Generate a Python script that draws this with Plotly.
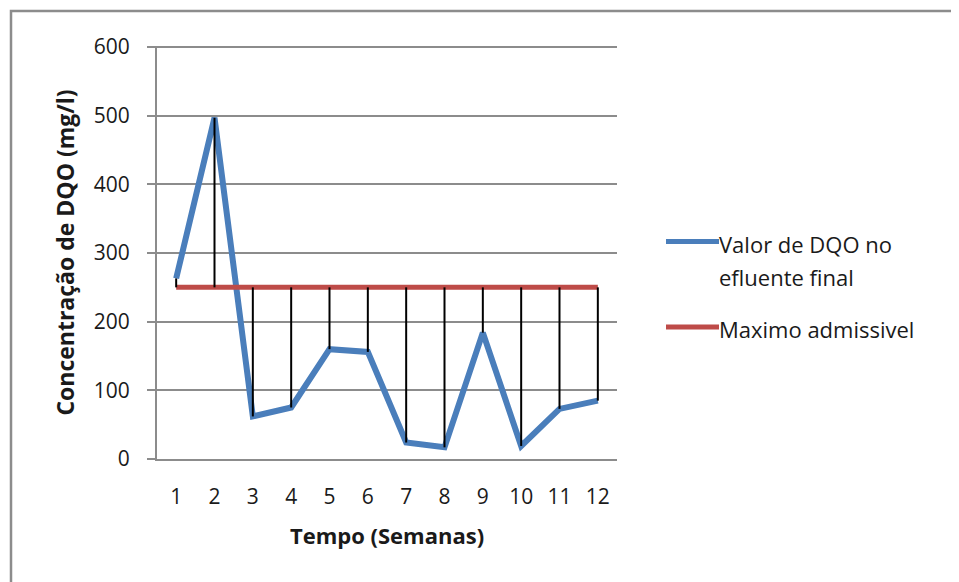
import plotly.graph_objects as go

# data
semanas = list(range(1, 13))
dqo_efluente = [263, 497, 62, 75, 160, 156, 24, 17, 184, 19, 73, 85]
maximo_admissivel = [250] * 12
y_ticks = [0, 100, 200, 300, 400, 500, 600]

BLUE = "#4A7EBB"
RED = "#BE4B48"
GRID = "#8C8C8C"
FONT = "Open Sans"

# page has an 8px body margin, so the figure is a bit smaller than the window
OFF = 8
W, H = 959 - OFF, 582 - OFF
L, R, T, B = 157 - OFF, 342, 46 - OFF, 123


def px_x(px):
    # page pixel -> paper x
    return (px - OFF - L) / (W - L - R)


def px_y(py):
    # page pixel -> paper y
    return (H - B - (py - OFF)) / (H - T - B)


fig = go.Figure()

fig.add_trace(go.Scatter(
    x=semanas, y=dqo_efluente, mode="lines",
    line=dict(color=BLUE, width=6), name="Valor de DQO no efluente final",
))
fig.add_trace(go.Scatter(
    x=semanas, y=maximo_admissivel, mode="lines",
    line=dict(color=RED, width=5), name="Maximo admissivel",
))

# high-low (drop) lines between the two series
drop_x, drop_y = [], []
for s, v, m in zip(semanas, dqo_efluente, maximo_admissivel):
    drop_x += [s, s, None]
    drop_y += [v, m, None]
fig.add_trace(go.Scatter(
    x=drop_x, y=drop_y, mode="lines",
    line=dict(color="black", width=2), hoverinfo="skip",
))

# legend drawn by hand to get Excel-like long symbols
legend_items = [
    (241.5, BLUE, ["Valor de DQO no", "efluente final"]),
    (327, RED, ["Maximo admissivel"]),
]
shapes = []
annotations = []
for py, color, lines in legend_items:
    shapes.append(dict(
        type="line", xref="paper", yref="paper",
        x0=px_x(666), x1=px_x(719), y0=px_y(py), y1=px_y(py),
        line=dict(color=color, width=5),
    ))
    for i, txt in enumerate(lines):
        annotations.append(dict(
            text=txt, xref="paper", yref="paper",
            x=px_x(717), y=px_y(py + 2 + i * 33),
            xanchor="left", yanchor="middle", showarrow=False,
            font=dict(family=FONT, size=22, color="#1a1a1a"),
        ))

# outer chart frame (runs off the right and bottom edges)
shapes.append(dict(
    type="rect", xref="paper", yref="paper",
    x0=px_x(11), x1=px_x(1000), y0=px_y(11), y1=px_y(700),
    line=dict(color=GRID, width=2.5), layer="below",
))

fig.update_layout(
    width=W, height=H,
    margin=dict(l=L, r=R, t=T, b=B, autoexpand=False),
    plot_bgcolor="white", paper_bgcolor="white",
    showlegend=False,
    font=dict(family=FONT, size=21, color="#1a1a1a"),
    shapes=shapes, annotations=annotations,
    xaxis=dict(
        range=[0.5, 12.5], tickvals=semanas, ticktext=[str(s) for s in semanas],
        showgrid=False, zeroline=False, automargin=False,
        showline=True, linecolor=GRID, linewidth=2,
        ticks="", ticklabelstandoff=18,
        title=dict(text="<b>Tempo (Semanas)</b>", standoff=19,
                   font=dict(family=FONT, size=22)),
    ),
    yaxis=dict(
        range=[0, 601.5], tickvals=y_ticks, automargin=False,
        showgrid=True, gridcolor=GRID, gridwidth=2,
        zeroline=False, showline=True, linecolor=GRID, linewidth=2,
        ticks="outside", ticklen=8, tickcolor=GRID, tickwidth=2,
        ticklabelstandoff=13,
        title=dict(text="<b>Concentração de DQO (mg/l)</b>", standoff=13,
                   font=dict(family=FONT, size=23)),
    ),
)

fig.write_html("out.html")
